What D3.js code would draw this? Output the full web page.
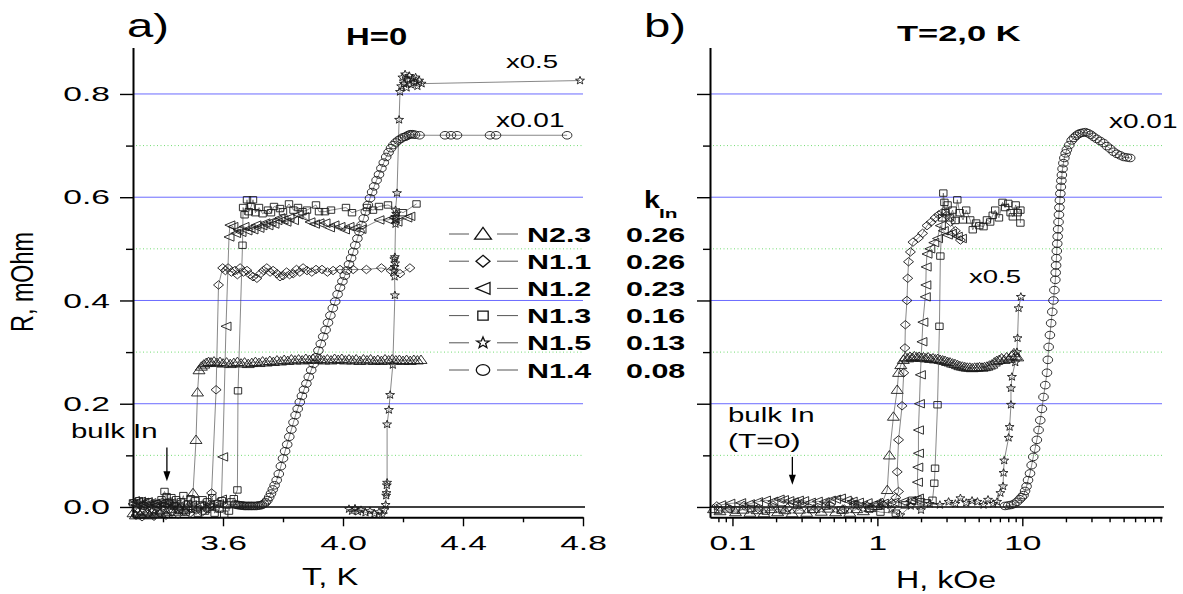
<!DOCTYPE html>
<meta charset="utf-8">
<head>
  <title>R(T) and R(H) of In samples</title>
</head>
<style>
body { margin: 0; background: #fff; }
text { font-family: "Liberation Sans", Arial, sans-serif; fill: #000; }
.major { stroke: #6b6bff; stroke-width: 1px; }
.minor { stroke: #74dc74; stroke-width: 1px; stroke-dasharray: 1,2.5; }
.zero { stroke: #000; stroke-width: 1.5px; }
.trace { fill: none; stroke: #555; stroke-width: 0.7px; }
.mark { fill: none; stroke: #1a1a1a; stroke-width: 0.9px; }
.legmark { fill: #fff; stroke: #111; stroke-width: 1.3px; }
.legline { stroke: #555; stroke-width: 1px; }
</style>
<body>
  <svg width="1183" height="594"></svg>
  <script src="https://cdnjs.cloudflare.com/ajax/libs/d3/7.8.5/d3.min.js"></script>
  <script>
// ---- data ----
var sampleNames = ["N2.3", "N1.1", "N1.2", "N1.3", "N1.5", "N1.4"];
var kIn = ["0.26", "0.26", "0.23", "0.16", "0.13", "0.08"];
var markerTypes = ["tri", "dia", "left", "sq", "star", "circ"];

var yMajor = [0, 0.2, 0.4, 0.6, 0.8];
var yMinor = [0.1, 0.3, 0.5, 0.7];
var xaMajor = [3.6, 4.0, 4.4, 4.8];
var xaMinor = [3.4, 3.8, 4.2, 4.6];
var xbMajor = [0.1, 1, 10];
var xbMinor = [0.08, 0.09, 0.2, 0.3, 0.4, 0.5, 0.6, 0.7, 0.8, 0.9, 2, 3, 4, 5, 6, 7, 8, 9, 20, 30, 40, 50, 60, 70, 80, 90];

// panel a: T (K), R (mOhm)
var aN23 = [[3.300,-0.012],[3.308,-0.016],[3.316,-0.010],[3.324,-0.015],[3.332,-0.008],[3.340,-0.014],[3.348,-0.011],[3.356,-0.016],[3.364,-0.009],[3.372,-0.013],[3.380,-0.007],[3.390,-0.012],[3.400,-0.006],[3.412,-0.010],[3.425,-0.004],[3.440,-0.009],[3.455,-0.003],[3.470,-0.006],[3.485,0.002],[3.500,0.027],[3.510,0.130],[3.515,0.222],[3.520,0.265],
  [3.528,0.272],[3.536,0.276],[3.544,0.279],[3.552,0.281],[3.560,0.280],[3.570,0.282],[3.580,0.279],[3.590,0.281],[3.600,0.278],[3.612,0.280],[3.624,0.277],[3.636,0.279],[3.648,0.281],[3.660,0.278],[3.672,0.280],[3.684,0.277],[3.696,0.279],[3.708,0.281],[3.720,0.279],[3.732,0.282],[3.744,0.280],[3.756,0.283],[3.768,0.281],[3.780,0.284],[3.792,0.282],[3.804,0.285],[3.816,0.283],[3.828,0.286],[3.840,0.284],[3.852,0.286],[3.864,0.284],[3.876,0.287],[3.888,0.285],[3.900,0.287],[3.912,0.285],[3.924,0.287],[3.936,0.284],[3.948,0.286],[3.960,0.284],[3.972,0.287],[3.984,0.285],[3.996,0.287],[4.008,0.284],[4.020,0.286],[4.032,0.284],[4.044,0.286],[4.056,0.283],[4.068,0.286],[4.080,0.284],[4.092,0.286],[4.104,0.283],[4.116,0.285],[4.128,0.283],[4.140,0.286],[4.152,0.284],[4.164,0.286],[4.176,0.284],[4.188,0.285],[4.200,0.283],[4.212,0.285],[4.224,0.283],[4.236,0.285],[4.248,0.284],[4.260,0.285]];
var aN11 = [[3.310,-0.016],[3.330,-0.019],[3.350,-0.014],[3.370,-0.018],[3.390,-0.012],[3.410,-0.016],[3.430,-0.010],[3.450,-0.014],[3.470,-0.008],[3.490,-0.012],[3.510,-0.006],[3.530,-0.010],[3.545,-0.004],[3.555,0.004],[3.562,0.027],[3.577,0.227],[3.585,0.430],[3.599,0.463],[3.608,0.458],[3.617,0.463],[3.628,0.455],[3.640,0.458],[3.648,0.450],[3.657,0.463],[3.668,0.455],[3.680,0.458],[3.690,0.450],[3.700,0.446],[3.713,0.443],[3.725,0.452],[3.735,0.458],[3.746,0.463],[3.757,0.455],[3.767,0.458],[3.780,0.452],[3.790,0.446],[3.800,0.448],[3.812,0.455],[3.822,0.450],[3.834,0.452],[3.845,0.460],[3.856,0.455],[3.867,0.463],[3.880,0.458],[3.896,0.455],[3.910,0.460],[3.930,0.460],[3.948,0.455],[3.967,0.458],[3.990,0.460],[4.034,0.460],[4.078,0.460],[4.128,0.463],[4.160,0.458],[4.190,0.452],[4.223,0.463]];
var aN12 = [[3.300,0.006],[3.305,0.012],[3.310,0.004],[3.315,0.010],[3.320,0.003],[3.325,0.011],[3.330,0.005],[3.336,0.009],[3.342,0.002],[3.348,0.010],[3.354,0.004],[3.360,0.008],[3.366,0.001],[3.372,0.007],[3.378,0.003],[3.384,0.009],[3.390,0.002],[3.396,0.008],[3.402,0.004],[3.410,0.010],[3.418,0.003],[3.426,0.008],[3.434,0.002],[3.442,0.006],[3.452,0.000],[3.465,0.005],[3.480,-0.002],[3.495,0.004],[3.510,-0.004],[3.525,0.003],[3.540,-0.003],[3.555,0.004],[3.570,-0.002],[3.585,0.006],[3.595,0.015],[3.599,0.097],[3.610,0.350],[3.620,0.523],[3.623,0.546],[3.633,0.543],[3.642,0.530],[3.650,0.537],[3.660,0.532],[3.670,0.543],[3.680,0.535],[3.690,0.540],[3.700,0.537],[3.710,0.546],[3.720,0.540],[3.730,0.545],[3.740,0.550],[3.750,0.545],[3.760,0.552],[3.770,0.548],[3.780,0.555],[3.790,0.560],[3.800,0.556],[3.810,0.552],[3.820,0.560],[3.835,0.555],[3.850,0.566],[3.870,0.562],[3.890,0.552],[3.905,0.548],[3.920,0.550],[3.940,0.550],[3.955,0.541],[3.970,0.546],[3.990,0.543],[4.005,0.537],[4.020,0.543],[4.040,0.540],[4.060,0.538],[4.120,0.556],[4.150,0.556],[4.170,0.560],[4.180,0.552],[4.213,0.560],[4.223,0.563]];
var aN13 = [[3.300,0.008],[3.310,-0.004],[3.320,0.012],[3.335,0.002],[3.350,0.010],[3.365,-0.006],[3.380,0.006],[3.395,0.014],[3.405,0.030],[3.412,0.020],[3.420,0.008],[3.428,0.018],[3.436,0.002],[3.444,0.014],[3.452,-0.006],[3.460,0.010],[3.468,0.022],[3.476,-0.010],[3.484,0.006],[3.492,0.016],[3.500,-0.004],[3.508,0.012],[3.516,-0.012],[3.524,0.004],[3.532,0.014],[3.540,-0.008],[3.548,0.010],[3.556,0.000],[3.564,0.018],[3.572,-0.012],[3.580,0.006],[3.588,-0.004],[3.596,0.012],[3.604,-0.014],[3.612,0.004],[3.620,-0.008],[3.628,0.010],[3.636,0.016],[3.648,0.033],[3.650,0.225],[3.665,0.507],[3.667,0.580],[3.672,0.566],[3.680,0.595],[3.686,0.572],[3.694,0.582],[3.700,0.595],[3.708,0.570],[3.720,0.580],[3.732,0.568],[3.750,0.575],[3.760,0.570],[3.770,0.582],[3.790,0.578],[3.800,0.572],[3.820,0.587],[3.835,0.575],[3.850,0.580],[3.865,0.572],[3.880,0.575],[3.910,0.585],[3.920,0.572],[3.940,0.572],[3.960,0.575],[4.010,0.580],[4.030,0.570],[4.080,0.580],[4.100,0.575],[4.120,0.582],[4.150,0.585],[4.200,0.570],[4.245,0.587]];
var aN15 = [[4.020,-0.004],[4.030,-0.008],[4.040,-0.003],[4.050,-0.009],[4.060,-0.006],[4.075,-0.011],[4.090,-0.008],[4.105,-0.013],[4.120,-0.010],[4.130,-0.015],[4.138,-0.006],[4.142,0.004],[4.144,0.022],[4.145,0.027],[4.146,0.042],[4.147,0.047],[4.147,0.160],[4.153,0.188],[4.157,0.217],[4.166,0.275],[4.173,0.410],[4.172,0.446],[4.170,0.458],[4.172,0.465],[4.174,0.472],[4.171,0.480],[4.173,0.484],[4.175,0.548],[4.176,0.556],[4.174,0.562],[4.177,0.568],[4.175,0.575],[4.180,0.608],[4.187,0.750],[4.190,0.804],[4.194,0.815],[4.198,0.832],[4.203,0.820],[4.207,0.838],[4.212,0.812],[4.216,0.828],[4.221,0.835],[4.226,0.818],[4.231,0.830],[4.236,0.822],[4.242,0.832],[4.248,0.815],[4.254,0.826],[4.262,0.820],[4.790,0.826]];
var aN14 = [[3.640,0.005],[3.645,0.004],[3.650,0.004],[3.655,0.003],[3.660,0.003],[3.665,0.003],[3.670,0.002],[3.675,0.002],[3.680,0.002],[3.685,0.002],[3.690,0.002],[3.695,0.002],[3.700,0.002],[3.706,0.002],[3.712,0.002],[3.718,0.003],[3.724,0.003],[3.730,0.004],[3.736,0.006],[3.742,0.009],[3.748,0.013],[3.754,0.019],[3.760,0.026],[3.766,0.034],[3.772,0.042],[3.779,0.052],[3.786,0.064],[3.793,0.079],[3.800,0.094],[3.807,0.108],[3.814,0.121],[3.821,0.136],[3.828,0.150],[3.835,0.164],[3.842,0.178],[3.849,0.190],[3.856,0.203],[3.863,0.215],[3.870,0.227],[3.878,0.239],[3.886,0.252],[3.894,0.265],[3.902,0.277],[3.910,0.290],[3.918,0.303],[3.926,0.316],[3.934,0.330],[3.942,0.343],[3.950,0.357],[3.958,0.371],[3.966,0.385],[3.974,0.398],[3.982,0.412],[3.990,0.425],[3.998,0.437],[4.006,0.448],[4.013,0.458],[4.020,0.470],[4.027,0.482],[4.034,0.494],[4.041,0.507],[4.048,0.520],[4.055,0.533],[4.062,0.546],[4.069,0.559],[4.076,0.572],[4.083,0.585],[4.090,0.598],[4.097,0.610],[4.104,0.621],[4.112,0.633],[4.120,0.644],[4.128,0.656],[4.136,0.667],[4.144,0.678],[4.152,0.687],[4.160,0.695],[4.168,0.701],[4.176,0.706],[4.184,0.710],[4.192,0.713],[4.200,0.716],[4.207,0.717],[4.214,0.719],[4.220,0.721],[4.226,0.722],[4.232,0.722],[4.240,0.721],[4.255,0.720],[4.340,0.720],[4.360,0.720],[4.380,0.720],[4.490,0.720],[4.510,0.720],[4.747,0.720]];

// panel b: H (kOe), R (mOhm)
var bN23 = [[0.074,-0.004],[0.082,-0.008],[0.092,-0.003],[0.105,-0.010],[0.118,-0.005],[0.132,-0.011],[0.148,-0.006],[0.165,-0.012],[0.185,-0.004],[0.205,-0.010],[0.230,-0.006],[0.258,-0.012],[0.290,-0.005],[0.325,-0.011],[0.365,-0.004],[0.410,-0.009],[0.460,-0.003],[0.515,-0.010],[0.575,-0.005],[0.645,-0.011],[0.720,-0.004],[0.800,-0.008],[0.890,-0.002],[0.980,0.002],[1.080,0.008],[1.170,0.033],[1.210,0.100],[1.290,0.175],[1.370,0.227],[1.400,0.260],[1.450,0.275],[1.510,0.285],[1.560,0.290],
  [1.620,0.288],[1.680,0.291],[1.740,0.289],[1.800,0.292],[1.870,0.290],[1.940,0.291],[2.010,0.289],[2.080,0.290],[2.160,0.288],[2.240,0.290],[2.330,0.287],[2.420,0.288],[2.510,0.286],[2.610,0.287],[2.710,0.285],[2.820,0.284],[2.930,0.283],[3.050,0.281],[3.170,0.280],[3.300,0.278],[3.430,0.277],[3.570,0.275],[3.710,0.273],[3.860,0.272],[4.010,0.271],[4.170,0.270],[4.340,0.270],[4.510,0.269],[4.690,0.270],[4.880,0.270],[5.070,0.271],[5.270,0.270],[5.480,0.271],[5.700,0.272],[5.930,0.274],[6.160,0.276],[6.410,0.280],[6.660,0.283],[6.930,0.285],[7.200,0.288],[7.490,0.285],[7.790,0.290],[8.100,0.287],[8.420,0.293],[8.750,0.298],[9.000,0.292],[9.300,0.290]];
var bN11 = [[0.078,0.002],[0.096,-0.004],[0.120,0.003],[0.150,-0.003],[0.190,0.004],[0.240,-0.002],[0.300,0.005],[0.380,-0.003],[0.470,0.004],[0.590,-0.004],[0.740,0.003],[0.920,-0.002],[1.100,0.004],[1.250,0.008],[1.340,0.018],[1.400,0.030],[1.370,0.068],[1.400,0.130],[1.480,0.196],[1.520,0.260],[1.550,0.308],[1.560,0.353],[1.600,0.400],[1.620,0.443],[1.640,0.475],[1.690,0.494],[1.760,0.513],[1.920,0.521],[2.050,0.530],[2.200,0.545],[2.350,0.552],[2.500,0.560],[2.650,0.566],[2.800,0.570],[3.000,0.565],[3.200,0.552],[3.450,0.535],[3.740,0.517]];
var bN12 = [[0.083,0.004],[0.096,0.007],[0.114,0.008],[0.131,0.006],[0.149,0.010],[0.169,0.013],[0.190,0.011],[0.210,0.015],[0.225,0.014],[0.245,0.012],[0.263,0.010],[0.285,0.013],[0.310,0.012],[0.345,0.009],[0.385,0.011],[0.430,0.010],[0.474,0.013],[0.515,0.015],[0.556,0.017],[0.610,0.013],[0.670,0.011],[0.740,0.009],[0.850,0.008],[0.960,0.006],[1.100,0.007],[1.300,0.009],[1.500,0.010],[1.700,0.012],[1.850,0.014],[1.920,0.017],[1.890,0.048],[1.900,0.077],[1.920,0.104],[1.920,0.149],[1.950,0.200],[1.980,0.256],[2.030,0.320],[2.060,0.358],[2.140,0.407],[2.160,0.430],[2.170,0.465],[2.200,0.490],[2.300,0.500],[2.450,0.512],[2.600,0.520],[2.720,0.545],[2.850,0.535],[3.040,0.527],[3.250,0.530],[3.560,0.524],[3.800,0.520]];
var bN13 = [[0.080,-0.006],[0.105,-0.006],[0.135,-0.003],[0.170,-0.008],[0.220,-0.004],[0.280,0.003],[0.350,-0.005],[0.440,0.002],[0.560,-0.006],[0.700,0.004],[0.880,-0.004],[1.050,-0.010],[1.340,-0.012],[1.550,0.004],[1.740,0.013],[2.000,0.010],[2.200,0.008],[2.400,0.013],[2.470,0.046],[2.500,0.075],[2.600,0.198],[2.680,0.350],[2.720,0.486],[2.800,0.560],[2.850,0.608],[2.900,0.590],[2.950,0.570],[3.050,0.585],[3.150,0.560],[3.300,0.575],[3.450,0.555],[3.560,0.595],[3.700,0.570],[3.900,0.556],[4.100,0.575],[4.370,0.556],[4.550,0.537],[4.800,0.550],[5.050,0.545],[5.400,0.543],[5.700,0.556],[6.000,0.552],[6.250,0.565],[6.500,0.575],[6.900,0.560],[7.300,0.590],[7.600,0.580],[8.000,0.588],[8.300,0.570],[8.600,0.562],[9.000,0.585],[9.300,0.570],[9.700,0.575],[9.700,0.550]];
var bN15 = [[0.670,0.010],[0.850,0.004],[1.050,0.008],[1.250,-0.004],[1.440,-0.016],[1.700,0.002],[2.000,-0.006],[2.300,0.006],[2.700,0.004],[3.100,0.010],[3.450,0.006],[3.740,0.017],[4.100,0.008],[4.500,0.012],[4.900,0.010],[5.400,0.004],[5.800,0.014],[6.300,0.006],[6.700,0.010],[7.060,0.027],[7.360,0.040],[7.420,0.066],[7.500,0.090],[8.040,0.134],[8.170,0.155],[8.350,0.198],[8.350,0.230],[8.480,0.252],[8.940,0.280],[9.180,0.300],[9.270,0.327],[9.420,0.385],[9.770,0.407]];
var bN14 = [[7.600,0.002],[8.000,0.003],[8.400,0.004],[8.800,0.006],[9.200,0.010],[9.600,0.015],[9.900,0.019],[10.200,0.023],[10.450,0.031],[10.700,0.040],[10.950,0.052],[11.300,0.065],[11.600,0.081],[11.900,0.097],[12.250,0.113],[12.600,0.130],[12.950,0.149],[13.300,0.168],[13.650,0.190],[14.000,0.213],[14.400,0.236],[14.800,0.260],[15.000,0.285],[15.200,0.310],[15.500,0.333],[15.800,0.356],[16.100,0.378],[16.400,0.400],[16.650,0.420],[16.900,0.440],[17.000,0.454],[17.100,0.468],[17.200,0.482],[17.300,0.496],[17.420,0.510],[17.540,0.524],[17.660,0.538],[17.780,0.552],[17.900,0.566],[18.030,0.580],[18.160,0.594],[18.300,0.607],[18.450,0.620],[18.600,0.632],[18.750,0.643],[18.950,0.655],[19.200,0.666],[19.500,0.676],[19.900,0.685],[20.300,0.692],[21.100,0.701],[21.900,0.710],[22.700,0.715],[23.500,0.719],[24.300,0.722],[25.100,0.724],[26.100,0.725],[27.200,0.726],[28.400,0.724],[29.700,0.721],[31.000,0.717],[32.600,0.713],[34.400,0.709],[36.300,0.705],[38.300,0.699],[40.400,0.694],[42.600,0.688],[44.900,0.684],[47.400,0.681],[50.000,0.678],[52.700,0.677],[55.500,0.676]];

var panelA = [aN23, aN11, aN12, aN13, aN15, aN14];
var panelB = [bN23, bN11, bN12, bN13, bN15, bN14];

// ---- scales ----
var svg = d3.select("svg");
var ya = d3.scaleLinear().domain([-0.02, 0.89]).range([517.3, 47.5]);
var xa = d3.scaleLinear().domain([3.3, 4.8]).range([133, 583]);
var xb = d3.scaleLog().domain([0.07, 92]).range([710, 1162]);

// marker outlines in screen px (the original is stretched sideways)
function starPath(rx, ry) {
  var p = [];
  for (var i = 0; i < 10; i++) {
    var a = -Math.PI / 2 + i * Math.PI / 5, r = i % 2 ? 0.42 : 1;
    p.push([(Math.cos(a) * r * rx).toFixed(2), (Math.sin(a) * r * ry).toFixed(2)]);
  }
  return "M" + p.join("L") + "Z";
}
function shape(type, s) {
  s = s || 1;
  switch (type) {
    case "tri": return "M0," + (-4.8 * s) + "L" + (6 * s) + "," + (3.6 * s) + "L" + (-6 * s) + "," + (3.6 * s) + "Z";
    case "dia": return "M0," + (-4.2 * s) + "L" + (5 * s) + ",0L0," + (4.2 * s) + "L" + (-5 * s) + ",0Z";
    case "left": return "M" + (-5 * s) + ",0L" + (5 * s) + "," + (-4.2 * s) + "L" + (5 * s) + "," + (4.2 * s) + "Z";
    case "sq": return "M" + (-3.7 * s) + "," + (-3.2 * s) + "h" + (7.4 * s) + "v" + (6.4 * s) + "h" + (-7.4 * s) + "Z";
    case "star": return starPath(4.7 * s, 4.2 * s);
    case "circ":
      var rx = 4.8 * s, ry = 3.8 * s;
      return "M" + (-rx) + ",0a" + rx + "," + ry + " 0 1,0 " + (2 * rx) + ",0a" + rx + "," + ry + " 0 1,0 " + (-2 * rx) + ",0Z";
  }
}

// stretched text helper
function label(x, y, str, size, opts) {
  opts = opts || {};
  return svg.append("text")
    .attr("transform", "translate(" + x + "," + y + ")" + (opts.rotate ? " rotate(" + opts.rotate + ")" : "") + " scale(" + (opts.k || 1.42) + ",1)")
    .attr("font-size", size)
    .attr("font-weight", opts.bold ? "bold" : null)
    .attr("text-anchor", opts.anchor || "start")
    .text(str);
}
function stretchTicks(g, k) {
  g.selectAll(".tick text").each(function() {
    var t = d3.select(this);
    t.attr("x", (+t.attr("x") || 0) / k).attr("transform", "scale(" + k + ",1)");
  });
}
function fixAxis(g) {
  g.attr("font-family", "Liberation Sans, Arial, sans-serif").attr("font-size", 21);
  g.selectAll(".tick line").attr("stroke-width", 1.4);
  g.select(".domain").attr("stroke-width", 2);
}

// ---- grid + axes ----
function frame(x, labelsOn) {
  var x0 = x.range()[0], x1 = x.range()[1];
  svg.append("g").selectAll("line").data(yMinor).join("line").attr("class", "minor")
    .attr("x1", x0 + 3).attr("x2", x1).attr("y1", function(d) { return ya(d); }).attr("y2", function(d) { return ya(d); });
  svg.append("g").selectAll("line").data(yMajor.slice(1)).join("line").attr("class", "major")
    .attr("x1", x0).attr("x2", x1).attr("y1", function(d) { return ya(d); }).attr("y2", function(d) { return ya(d); });
  svg.append("line").attr("class", "zero").attr("x1", x0).attr("x2", x1 + 2).attr("y1", ya(0)).attr("y2", ya(0));

  var gy = svg.append("g").attr("transform", "translate(" + x0 + ",0)")
    .call(d3.axisLeft(ya).tickValues(yMajor).tickSize(13).tickPadding(10).tickSizeOuter(0)
      .tickFormat(labelsOn ? d3.format(".1f") : ""));
  fixAxis(gy);
  stretchTicks(gy, 1.6);
  var gym = svg.append("g").attr("transform", "translate(" + x0 + ",0)")
    .call(d3.axisLeft(ya).tickValues(yMinor).tickSize(7).tickFormat("").tickSizeOuter(0));
  gym.select(".domain").remove();
  fixAxis(gym);
}
frame(xa, true);
frame(xb, false);

function xAxis(x, major, minor, fmt) {
  var gx = svg.append("g").attr("transform", "translate(0," + ya(-0.02) + ")")
    .call(d3.axisBottom(x).tickValues(major).tickSize(9).tickPadding(9).tickSizeOuter(0).tickFormat(fmt));
  fixAxis(gx);
  stretchTicks(gx, 1.6);
  var gm = svg.append("g").attr("transform", "translate(0," + ya(-0.02) + ")")
    .call(d3.axisBottom(x).tickValues(minor).tickSize(5).tickFormat("").tickSizeOuter(0));
  gm.select(".domain").remove();
  fixAxis(gm);
}
xAxis(xa, xaMajor, xaMinor, d3.format(".1f"));
xAxis(xb, xbMajor, xbMinor, function(d) { return d < 1 ? String(d) : d3.format("d")(d); });

// ---- data ----
function drawSeries(x, pts, type) {
  var line = d3.line().x(function(d) { return x(d[0]); }).y(function(d) { return ya(d[1]); });
  svg.append("path").attr("class", "trace").attr("d", line(pts));
  svg.append("g").selectAll("path").data(pts).join("path").attr("class", "mark")
    .attr("transform", function(d) { return "translate(" + x(d[0]) + "," + ya(d[1]) + ")"; })
    .attr("d", shape(type));
}
panelA.forEach(function(s, i) { drawSeries(xa, s, markerTypes[i]); });
panelB.forEach(function(s, i) { drawSeries(xb, s, markerTypes[i]); });

// ---- legend (panel a) ----
var rowY = d3.scaleLinear().domain([0, 5]).range([234, 370]);
var leg = svg.append("g").selectAll("g").data(sampleNames).join("g")
  .attr("transform", function(d, i) { return "translate(0," + rowY(i) + ")"; });
leg.append("line").attr("class", "legline").attr("x1", 449).attr("x2", 469);
leg.append("line").attr("class", "legline").attr("x1", 497).attr("x2", 518);
leg.append("path").attr("class", "legmark").attr("transform", "translate(483,0)")
  .attr("d", function(d, i) { return shape(markerTypes[i], 1.4); });
leg.append("text").attr("transform", "translate(527,7.5) scale(1.45,1)")
  .attr("font-size", 21).attr("font-weight", "bold").text(function(d) { return d; });
leg.append("text").attr("transform", "translate(626,7.5) scale(1.45,1)")
  .attr("font-size", 21).attr("font-weight", "bold").text(function(d, i) { return kIn[i]; });
label(644, 208, "k", 23, { bold: true, k: 1.25 });
label(659, 218, "In", 13, { bold: true, k: 1.6 });

// ---- titles and labels ----
label(127, 37, "a)", 34, { k: 1.39 });
label(644, 37, "b)", 34, { k: 1.39 });
label(346, 45, "H=0", 23, { bold: true, k: 1.43 });
label(897, 41, "T=2,0 K", 23, { bold: true, k: 1.5 });
label(302, 585, "T, K", 23, { k: 1.42 });
label(896, 588, "H, kOe", 23, { k: 1.4 });
label(33, 282, "R, mOhm", 32, { rotate: -90, anchor: "middle", k: 0.73 });

label(506, 68, "x0.5", 19, { k: 1.45 });
label(496, 127, "x0.01", 20, { k: 1.4 });
label(1109, 128, "x0.01", 20, { k: 1.4 });
label(969, 283, "x0.5", 19, { k: 1.45 });
label(71, 438, "bulk In", 21, { k: 1.4 });
label(728, 422, "bulk In", 21, { k: 1.4 });
label(728, 448, "(T=0)", 21, { k: 1.43 });

// arrows pointing to bulk In
function arrow(x, top, tip) {
  svg.append("line").attr("x1", x).attr("x2", x).attr("y1", ya(top)).attr("y2", ya(tip) - 8)
    .attr("stroke", "#000").attr("stroke-width", 1.3);
  svg.append("path").attr("fill", "#000")
    .attr("d", "M" + (x - 3.5) + "," + (ya(tip) - 10) + "L" + (x + 3.5) + "," + (ya(tip) - 10) + "L" + x + "," + ya(tip) + "Z");
}
arrow(xa(3.413), 0.115, 0.05);
arrow(xb(0.259), 0.097, 0.043);
  </script>
</body>
